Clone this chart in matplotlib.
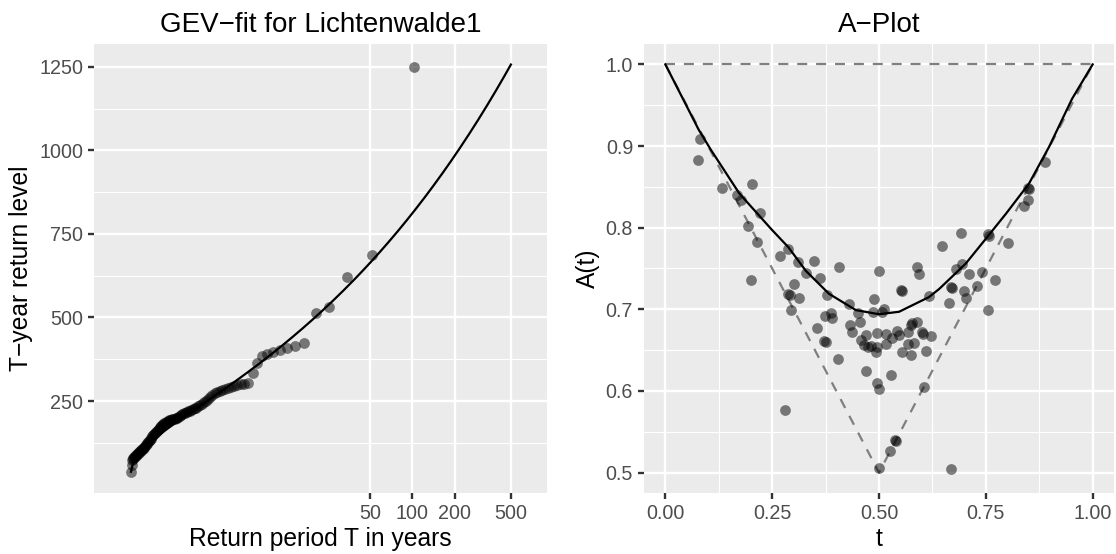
import numpy as np
import matplotlib.pyplot as plt
from matplotlib.ticker import NullLocator

plt.rcParams['font.family'] = ['Liberation Sans', 'DejaVu Sans']

# ---- left panel: observed maxima, largest first ----
gev_values = [1250, 687, 622, 532, 512, 423, 414, 408, 404, 397,
              390, 386, 365, 335, 304, 302, 300, 298, 296, 293,
              290, 287, 284, 281, 278, 275, 269, 262, 256, 250,
              246, 242, 238, 234, 230, 228, 226, 224, 221, 219,
              217, 215, 213, 210, 208, 204, 201, 199, 198, 197,
              196, 195, 194, 193, 192, 190, 188, 186, 183, 180,
              177, 174, 171, 168, 165, 162, 159, 156, 153, 150,
              147, 144, 141, 138, 135, 132, 129, 126, 123, 120,
              117, 114, 111, 108, 106, 104, 102, 100, 98, 96,
              94, 92, 90, 88, 86, 84, 82, 80, 78, 74,
              58, 38]

# fitted GEV parameters (location, scale, shape)
gev_mu = 147.0
gev_sigma = 83.5
gev_xi = 0.22

left_xticks = [50, 100, 200, 500]
left_yticks = [250, 500, 750, 1000, 1250]

# ---- right panel: Pickands A-plot ----
t_obs = [0.077, 0.080, 0.133, 0.167, 0.177, 0.203, 0.221, 0.194, 0.214, 0.200,
         0.268, 0.288, 0.311, 0.348, 0.329, 0.362, 0.407, 0.302, 0.287, 0.291,
         0.313, 0.295, 0.379, 0.355, 0.373, 0.387, 0.391, 0.372, 0.377, 0.404,
         0.281, 0.429, 0.432, 0.436, 0.450, 0.455, 0.458, 0.470, 0.464, 0.475,
         0.482, 0.493, 0.489, 0.499, 0.495, 0.496, 0.485, 0.512, 0.508, 0.469,
         0.496, 0.499, 0.529, 0.516, 0.516, 0.531, 0.543, 0.547, 0.553, 0.551,
         0.553, 0.567, 0.569, 0.574, 0.578, 0.574, 0.582, 0.588, 0.590, 0.594,
         0.600, 0.606, 0.538, 0.540, 0.526, 0.499, 0.602, 0.621, 0.609, 0.668,
         0.691, 0.754, 0.758, 0.647, 0.802, 0.695, 0.680, 0.711, 0.742, 0.771,
         0.729, 0.668, 0.670, 0.699, 0.703, 0.617, 0.664, 0.756, 0.849, 0.850,
         0.849, 0.840, 0.889]
a_obs = [0.883, 0.909, 0.848, 0.840, 0.834, 0.854, 0.818, 0.802, 0.783, 0.736,
         0.765, 0.774, 0.758, 0.759, 0.745, 0.738, 0.752, 0.731, 0.719, 0.717,
         0.714, 0.699, 0.718, 0.677, 0.692, 0.695, 0.689, 0.661, 0.660, 0.639,
         0.577, 0.706, 0.681, 0.672, 0.696, 0.685, 0.662, 0.669, 0.656, 0.654,
         0.655, 0.648, 0.713, 0.747, 0.671, 0.654, 0.697, 0.700, 0.697, 0.624,
         0.610, 0.603, 0.620, 0.670, 0.658, 0.665, 0.673, 0.668, 0.648, 0.724,
         0.723, 0.672, 0.658, 0.681, 0.683, 0.644, 0.659, 0.685, 0.752, 0.743,
         0.672, 0.605, 0.540, 0.539, 0.527, 0.506, 0.670, 0.667, 0.649, 0.505,
         0.794, 0.792, 0.790, 0.777, 0.781, 0.756, 0.749, 0.743, 0.746, 0.736,
         0.729, 0.727, 0.726, 0.723, 0.714, 0.716, 0.708, 0.699, 0.849, 0.847,
         0.834, 0.826, 0.880]

# fitted dependence function A(t)
t_fit = [0.0, 0.078, 0.107, 0.173, 0.25, 0.288, 0.329, 0.383, 0.446, 0.5,
         0.547, 0.617, 0.641, 0.703, 0.754, 0.797, 0.851, 0.898, 0.952, 1.0]
a_fit = [1.0, 0.920, 0.895, 0.842, 0.797, 0.776, 0.747, 0.719, 0.699, 0.694,
         0.697, 0.715, 0.725, 0.756, 0.789, 0.817, 0.854, 0.899, 0.958, 1.0]

GREY_BG = '#EBEBEB'
TICK_SIZE = 14.2
LABEL_SIZE = 17.7
TITLE_SIZE = 20
PT_SIZE = 60


def gg_style(ax):
    ax.set_facecolor(GREY_BG)
    for s in ax.spines.values():
        s.set_visible(False)
    ax.set_axisbelow(True)
    ax.grid(which='major', color='white', lw=1.7)
    ax.grid(which='minor', color='white', lw=0.85)
    ax.tick_params(which='major', length=4.4, width=1.7, color='#333333',
                   labelcolor='#4D4D4D', labelsize=TICK_SIZE, pad=3.5)
    ax.tick_params(which='minor', length=0)


fig = plt.figure(figsize=(11.16, 5.54), dpi=100)
ax1 = fig.add_axes([94 / 1116, 61 / 554, 453 / 1116, 449 / 554])
ax2 = fig.add_axes([644 / 1116, 61 / 554, 470 / 1116, 449 / 554])

# left: return level plot
n = len(gev_values)
rank = np.arange(1, n + 1)
ret_period = (n + 1) / rank

T_grid = np.logspace(np.log10(1.01), np.log10(500), 300)
yT = -np.log(1 - 1 / T_grid)
z_T = gev_mu + gev_sigma / gev_xi * (yT ** (-gev_xi) - 1)

gg_style(ax1)
ax1.set_xscale('log')
ax1.scatter(ret_period, gev_values, s=PT_SIZE, color='black', alpha=0.5,
            linewidths=0, zorder=2)
ax1.plot(T_grid, z_T, color='black', lw=1.6, zorder=3)
ax1.set_xlim(10 ** -0.258, 10 ** 2.955)
ax1.set_ylim(-25, 1318)
ax1.set_xticks(left_xticks)
ax1.set_xticklabels([str(v) for v in left_xticks])
ax1.xaxis.set_minor_locator(NullLocator())
ax1.set_yticks(left_yticks)
ax1.set_yticks([125, 375, 625, 875, 1125], minor=True)
ax1.set_title('GEV\u2212fit for Lichtenwalde1', fontsize=TITLE_SIZE, pad=9)
ax1.set_xlabel('Return period T in years', fontsize=LABEL_SIZE, labelpad=3)
ax1.set_ylabel('T\u2212year return level', fontsize=LABEL_SIZE, labelpad=4)

# right: A-plot
dash = (0, (4.5, 4))
gg_style(ax2)
ax2.plot([0, 1], [1, 1], color='#7F7F7F', lw=1.6, ls=dash, zorder=2)
ax2.plot([0, 0.5, 1], [1, 0.5, 1], color='#7F7F7F', lw=1.6, ls=dash, zorder=2)
ax2.scatter(t_obs, a_obs, s=PT_SIZE, color='black', alpha=0.5, linewidths=0,
            zorder=3)
ax2.plot(t_fit, a_fit, color='black', lw=1.6, zorder=4)
ax2.set_xlim(-0.05, 1.05)
ax2.set_ylim(0.475, 1.025)
ax2.set_xticks([0, 0.25, 0.5, 0.75, 1.0])
ax2.set_xticklabels(['0.00', '0.25', '0.50', '0.75', '1.00'])
ax2.set_xticks([0.125, 0.375, 0.625, 0.875], minor=True)
ax2.set_yticks([0.5, 0.6, 0.7, 0.8, 0.9, 1.0])
ax2.set_yticklabels(['0.5', '0.6', '0.7', '0.8', '0.9', '1.0'])
ax2.set_yticks([0.55, 0.65, 0.75, 0.85, 0.95], minor=True)
ax2.set_title('A\u2212Plot', fontsize=TITLE_SIZE, pad=9)
ax2.set_xlabel('t', fontsize=LABEL_SIZE, labelpad=3)
ax2.set_ylabel('A(t)', fontsize=LABEL_SIZE, labelpad=4)

fig.savefig('out.png', dpi=100)
